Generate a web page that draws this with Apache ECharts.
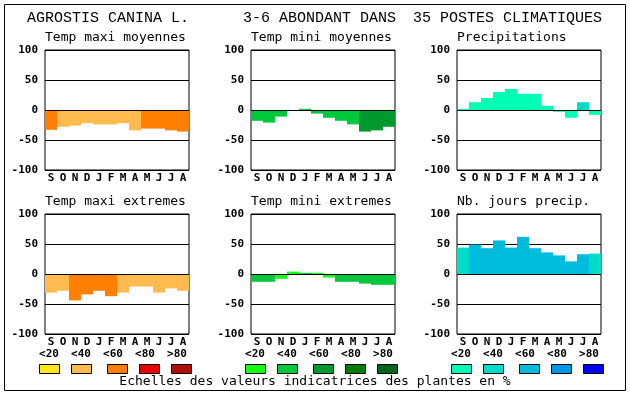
<!DOCTYPE html>
<html><head><meta charset="utf-8">
<script src="https://cdn.jsdelivr.net/npm/echarts@6/dist/echarts.min.js"></script>
<style>html,body{margin:0;padding:0;background:#fff}#c{width:630px;height:394px}</style>
</head><body><div id="c"></div>
<script>
const months = ['S','O','N','D','J','F','M','A','M','J','J','A'];
const scaleLabels = ['<20','<40','<60','<80','>80'];
const yTicks = [-100,-50,0,50,100];

const titleParts = ['AGROSTIS CANINA L.','3-6 ABONDANT DANS','35 POSTES CLIMATIQUES'];
const panelTitles = ['Temp maxi moyennes','Temp mini moyennes','Precipitations','Temp maxi extremes','Temp mini extremes','Nb. jours precip.'];
const caption = 'Echelles des valeurs indicatrices des plantes en %';

const orangeScale = ['#FFE61A','#FFBA50','#FF8000','#E80000','#B00E00'];
const greenScale  = ['#14FF14','#00C83C','#00992E','#007D00','#00641E'];
const blueScale   = ['#00FFB4','#00DCC8','#00BCDC','#0096E6','#0000FF'];

const tmaxMoy    = [-33,-28,-26,-22,-24,-24,-22,-34,-31,-31,-34,-36];
const tmaxMoyCls = [2,1,1,1,1,1,1,1,2,2,2,2];
const tminMoy    = [-18,-21,-11,0,2,-6,-13,-18,-24,-36,-34,-28];
const tminMoyCls = [1,1,1,1,1,1,1,1,1,2,2,2];
const precip     = [2,13,20,30,35,27,27,7,-3,-13,13,-8];
const precipCls  = [0,0,0,0,0,0,0,0,0,0,1,0];
const tmaxExt    = [-31,-28,-44,-34,-28,-37,-31,-21,-21,-31,-24,-28];
const tmaxExtCls = [1,1,2,2,2,2,1,1,1,1,1,1];
const tminExt    = [-13,-13,-8,4,2,2,-6,-13,-13,-16,-18,-18];
const tminExtCls = [1,1,0,0,1,0,0,1,1,1,1,1];
const nbJours    = [44,49,43,56,44,62,43,36,31,21,33,34];
const nbJoursCls = [1,2,2,2,2,2,2,2,2,2,2,1];

const panels = [
  {vals:tmaxMoy, cls:tmaxMoyCls, pal:orangeScale, left:45,  top:50},
  {vals:tminMoy, cls:tminMoyCls, pal:greenScale,  left:251, top:50},
  {vals:precip,  cls:precipCls,  pal:blueScale,   left:457, top:50},
  {vals:tmaxExt, cls:tmaxExtCls, pal:orangeScale, left:45,  top:214},
  {vals:tminExt, cls:tminExtCls, pal:greenScale,  left:251, top:214},
  {vals:nbJours, cls:nbJoursCls, pal:blueScale,   left:457, top:214}
];

const MONO = '"DejaVu Sans Mono", monospace';
const grids=[], xAxes=[], yAxes=[], series=[], graphic=[];

panels.forEach((p,i)=>{
  grids.push({left:p.left, top:p.top, width:144, height:120, show:true, borderColor:'#000', borderWidth:1, backgroundColor:'#fff'});
  xAxes.push({type:'category', gridIndex:i, data:months, boundaryGap:true,
    axisLine:{show:false}, axisTick:{show:false}, splitLine:{show:false},
    axisLabel:{interval:0, margin:3, color:'#000', fontFamily:MONO, fontWeight:'bold', fontSize:11}});
  yAxes.push({type:'value', gridIndex:i, min:-100, max:100, interval:50,
    axisLine:{show:false}, axisTick:{show:false},
    splitLine:{show:true, lineStyle:{color:'#000', width:1}},
    axisLabel:{margin:7, color:'#000', fontFamily:MONO, fontWeight:'bold', fontSize:11}});
  series.push({type:'bar', xAxisIndex:i, yAxisIndex:i, barCategoryGap:0, barGap:0,
    data:p.vals.map((v,k)=>({value:v, itemStyle:{color:p.pal[p.cls[k]]}})),
    markLine:{silent:true, symbol:'none', label:{show:false}, animation:false,
      lineStyle:{color:'#000', width:1, type:'solid'}, data:[{yAxis:0}]},
    animation:false});
  graphic.push({type:'text', left:p.left, top:(p.top===50?31:195), style:{text:panelTitles[i], font:'13px '+MONO, fill:'#000'}});
});

// main title
const titleRight = [189, 396, 602];
titleParts.forEach((t,i)=>{
  graphic.push({type:'text', x:titleRight[i], y:18, style:{text:t, font:'15px "Liberation Mono", monospace', fill:'#000', textAlign:'right', textVerticalAlign:'middle'}});
});

// scale labels and legend boxes
const groupX = [39,245,451];
const boxOff = [0,32,68,100,132];
const pals = [orangeScale, greenScale, blueScale];
groupX.forEach((gx,g)=>{
  scaleLabels.forEach((s,k)=>{
    graphic.push({type:'text', x:gx+10+32*k, y:354, style:{text:s, font:'bold 11px '+MONO, fill:'#000', textAlign:'center', textVerticalAlign:'middle'}});
    graphic.push({type:'rect', shape:{x:gx+boxOff[k]+0.5, y:364.5, width:20, height:9}, style:{fill:pals[g][k], stroke:'#000', lineWidth:1}});
  });
});
graphic.push({type:'text', x:315, y:382, style:{text:caption, font:'13px '+MONO, fill:'#000', textAlign:'center', textVerticalAlign:'middle'}});
graphic.push({type:'rect', shape:{x:4.5, y:4.5, width:621, height:386}, style:{fill:'none', stroke:'#000', lineWidth:1}, z:-1});

const chart = echarts.init(document.getElementById('c'), null, {renderer:'canvas'});
chart.setOption({animation:false, backgroundColor:'#fff', grid:grids, xAxis:xAxes, yAxis:yAxes, series:series, graphic:graphic});
</script></body></html>
